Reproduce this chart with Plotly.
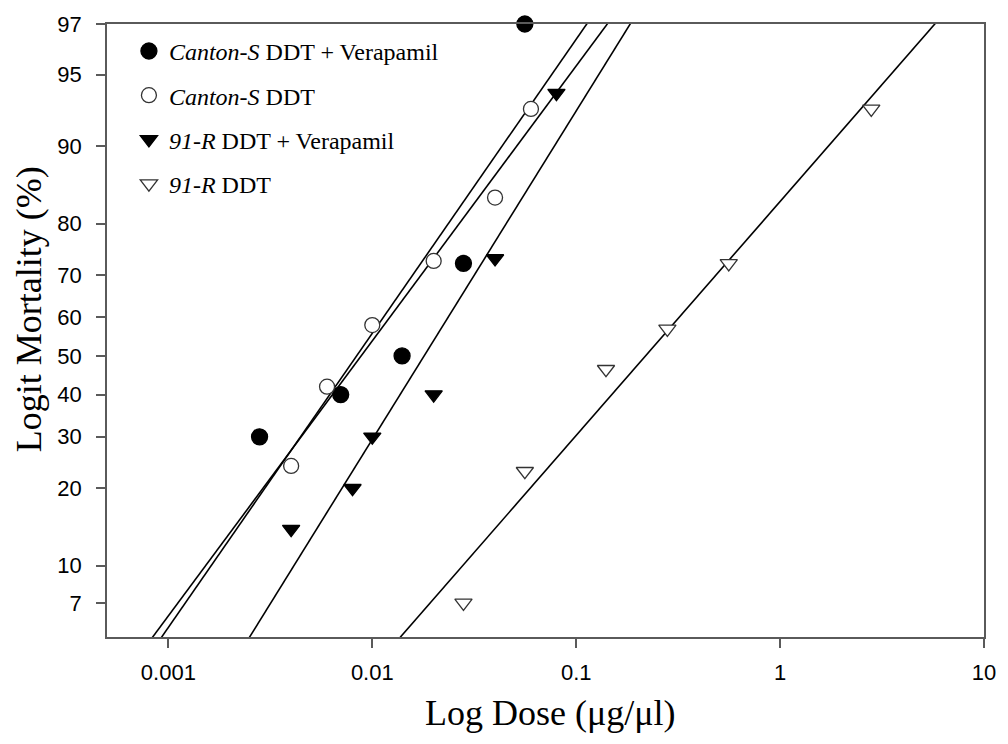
import numpy as np
import plotly.graph_objects as go

# ---- data ----
cs_v_dose = [0.0028, 0.007, 0.014, 0.028, 0.056]
cs_v_mort = [30, 40, 50, 72.5, 97]

cs_dose = [0.004, 0.006, 0.01, 0.02, 0.04, 0.06]
cs_mort = [24, 42, 58, 73, 84, 93]

rv_dose = [0.004, 0.008, 0.01, 0.02, 0.04, 0.08]
rv_mort = [14, 20, 30, 40, 73.5, 94]

r_dose = [0.028, 0.056, 0.14, 0.28, 0.56, 2.8]
r_mort = [7, 23, 46.5, 57, 72.5, 93]

# fitted regression lines: LD50 (ug/ul) and slope (logit units per decade)
line_ld50 = [0.00838, 0.00882, 0.01796, 0.2188]
line_slope = [3.08, 2.88, 3.44, 2.45]

y_ticks = [7, 10, 20, 30, 40, 50, 60, 70, 80, 90, 95, 97]
x_ticks = [0.001, 0.01, 0.1, 1, 10]
x_ticktext = ["0.001", "0.01", "0.1", "1", "10"]

legend_names = [
    "<i>Canton-S</i> DDT + Verapamil",
    "<i>Canton-S</i> DDT",
    "<i>91-R</i> DDT + Verapamil",
    "<i>91-R</i> DDT",
]


def logit(p):
    p = np.asarray(p, dtype=float)
    return np.log(p / (100.0 - p))


fig = go.Figure()

# regression lines
line_dose = np.array([1e-4, 100.0])
for ld50, b in zip(line_ld50, line_slope):
    yv = b * (np.log10(line_dose) - np.log10(ld50))
    fig.add_trace(go.Scatter(x=line_dose, y=yv, mode="lines",
                             line=dict(color="black", width=1.6),
                             showlegend=False, hoverinfo="skip"))

series = [
    (cs_v_dose, cs_v_mort, "circle", "black", "black", 16),
    (cs_dose, cs_mort, "circle", "white", "#333333", 15),
    (rv_dose, rv_mort, "triangle-down", "black", "black", 15),
    (r_dose, r_mort, "triangle-down", "white", "#333333", 15),
]
for i, (d, m, sym, fill, edge, sz) in enumerate(series):
    fig.add_trace(go.Scatter(
        x=d, y=logit(m), mode="markers", name=legend_names[i],
        legendgroup=f"g{i}",
        marker=dict(symbol=sym, size=sz, color=fill,
                    line=dict(color=edge, width=1.3)),
        cliponaxis=False,
    ))

axis_col = "#5a5a5a"
fig.update_layout(
    width=1008, height=744,
    margin=dict(l=107, r=23, t=21, b=107),
    paper_bgcolor="white", plot_bgcolor="white",
    showlegend=True,
    legend=dict(x=0.025, y=0.992, xanchor="left", yanchor="top",
                font=dict(family="Liberation Serif", size=24, color="black"),
                tracegroupgap=10, bgcolor="rgba(0,0,0,0)"),
    xaxis=dict(type="log", range=[np.log10(0.0005), 1],
               tickvals=x_ticks, ticktext=x_ticktext,
               ticks="outside", ticklen=9, tickwidth=1.5, tickcolor=axis_col,
               ticklabelstandoff=6,
               showline=True, linecolor=axis_col, linewidth=1.5, mirror=True,
               showgrid=False, zeroline=False,
               tickfont=dict(family="Liberation Sans", size=22, color="black")),
    yaxis=dict(range=[float(logit(5)), float(logit(97))],
               tickvals=list(logit(y_ticks)), ticktext=[str(v) for v in y_ticks],
               ticks="outside", ticklen=9, tickwidth=1.5, tickcolor=axis_col,
               ticklabelstandoff=10,
               showline=True, linecolor=axis_col, linewidth=1.5, mirror=True,
               showgrid=False, zeroline=False,
               tickfont=dict(family="Liberation Sans", size=22, color="black")),
    annotations=[
        dict(text="Log Dose (\u03bcg/\u03bcl)", xref="paper", yref="paper",
             x=0.5057, y=-0.1234, xanchor="center", yanchor="middle",
             showarrow=False,
             font=dict(family="Liberation Serif", size=36, color="black")),
        dict(text="Logit Mortality (%)", xref="paper", yref="paper",
             x=-0.0888, y=0.535, xanchor="center", yanchor="middle",
             textangle=-90, showarrow=False,
             font=dict(family="Liberation Serif", size=36, color="black")),
    ],
)

fig.write_html("out.html")
